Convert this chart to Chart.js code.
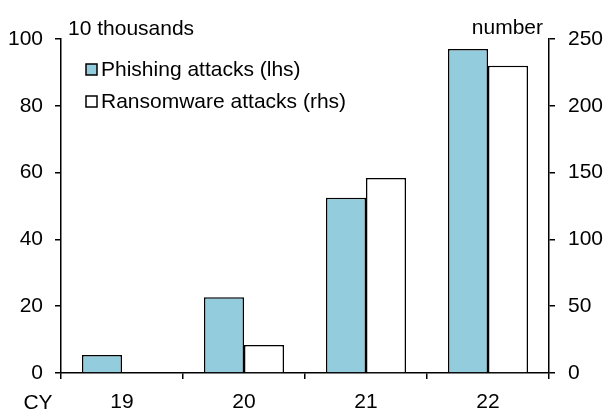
<!DOCTYPE html>
<html>
<head>
<meta charset="utf-8">
<script src="https://cdn.jsdelivr.net/npm/chart.js@4/dist/chart.umd.min.js"></script>
<style>
  html, body { margin: 0; padding: 0; background: #fff; }
  #wrap { width: 603px; height: 410px; position: relative; }
</style>
</head>
<body>
<div id="wrap"><canvas id="attackChart"></canvas></div>
<script>
// 데이터
var categories = ["19", "20", "21", "22"];
var phishing = [5.4, 22.7, 52.5, 97];      // 10 thousands (lhs)
var ransomware = [0, 21, 146, 230];        // number (rhs)
var leftTicks = [0, 20, 40, 60, 80, 100];
var rightTicks = [0, 50, 100, 150, 200, 250];

var FONT = "'Liberation Sans', Arial, sans-serif";
var FS = 21;
Chart.defaults.font.family = FONT;
Chart.defaults.color = "#000";

// 축 제목 + 범례 그리기
var decorations = {
  id: "decorations",
  afterDraw: function (chart) {
    var ctx = chart.ctx;
    var area = chart.chartArea;
    ctx.save();
    ctx.fillStyle = "#000";
    ctx.font = FS + "px " + FONT;
    ctx.textBaseline = "middle";
    ctx.textAlign = "left";
    ctx.fillText("10 thousands", area.left + 7, 29);
    ctx.textAlign = "right";
    ctx.fillText("number", area.right - 6, 28);
    ctx.textAlign = "center";
    ctx.fillText("CY", 38, 403);

    // 범례
    ctx.textAlign = "left";
    chart.data.datasets.forEach(function (ds, i) {
      var y = 70 + i * 32;
      ctx.fillStyle = ds.backgroundColor;
      ctx.fillRect(area.left + 25, y - 6, 11, 11);
      ctx.strokeStyle = "#000";
      ctx.lineWidth = 1.5;
      ctx.strokeRect(area.left + 25, y - 6, 11, 11);
      ctx.fillStyle = "#000";
      ctx.fillText(ds.label, area.left + 40, y);
    });
    ctx.restore();
  }
};

var ctx = document.getElementById("attackChart").getContext("2d");
var chart = new Chart(ctx, {
  type: "bar",
  data: {
    labels: categories,
    datasets: [
      {
        label: "Phishing attacks (lhs)",
        data: phishing,
        yAxisID: "y",
        backgroundColor: "#93CDDD",
        borderColor: "#000",
        borderWidth: 1.5,
        borderSkipped: "bottom"
      },
      {
        label: "Ransomware attacks (rhs)",
        data: ransomware,
        yAxisID: "y1",
        backgroundColor: "#ffffff",
        borderColor: "#000",
        borderWidth: 1.5,
        borderSkipped: "bottom"
      }
    ]
  },
  options: {
    responsive: true,
    maintainAspectRatio: false,
    animation: false,
    layout: { padding: { top: 39, left: 0, right: 0, bottom: 0 } },
    datasets: { bar: { categoryPercentage: 0.656, barPercentage: 1.0 } },
    plugins: { legend: { display: false }, tooltip: { enabled: false } },
    scales: {
      x: {
        grid: {
          offset: true,
          drawOnChartArea: false,
          color: "#000",
          lineWidth: 1.5,
          tickLength: 6
        },
        border: { color: "#000", width: 1.5 },
        ticks: { font: { size: FS }, padding: 11, maxRotation: 0 },
        afterFit: function (scale) { scale.height = 37; }
      },
      y: {
        position: "left",
        min: 0,
        max: 100,
        afterBuildTicks: function (scale) {
          scale.ticks = leftTicks.map(function (v) { return { value: v }; });
        },
        grid: { drawOnChartArea: false, color: "#000", lineWidth: 1.5, tickLength: 6 },
        border: { color: "#000", width: 1.5 },
        ticks: { font: { size: FS }, padding: 12 },
        afterFit: function (scale) { scale.width = 61; }
      },
      y1: {
        position: "right",
        min: 0,
        max: 250,
        afterBuildTicks: function (scale) {
          scale.ticks = rightTicks.map(function (v) { return { value: v }; });
        },
        grid: { drawOnChartArea: false, color: "#000", lineWidth: 1.5, tickLength: 6 },
        border: { color: "#000", width: 1.5 },
        ticks: { font: { size: FS }, padding: 13 },
        afterFit: function (scale) { scale.width = 54; }
      }
    }
  },
  plugins: [decorations]
});
</script>
</body>
</html>
